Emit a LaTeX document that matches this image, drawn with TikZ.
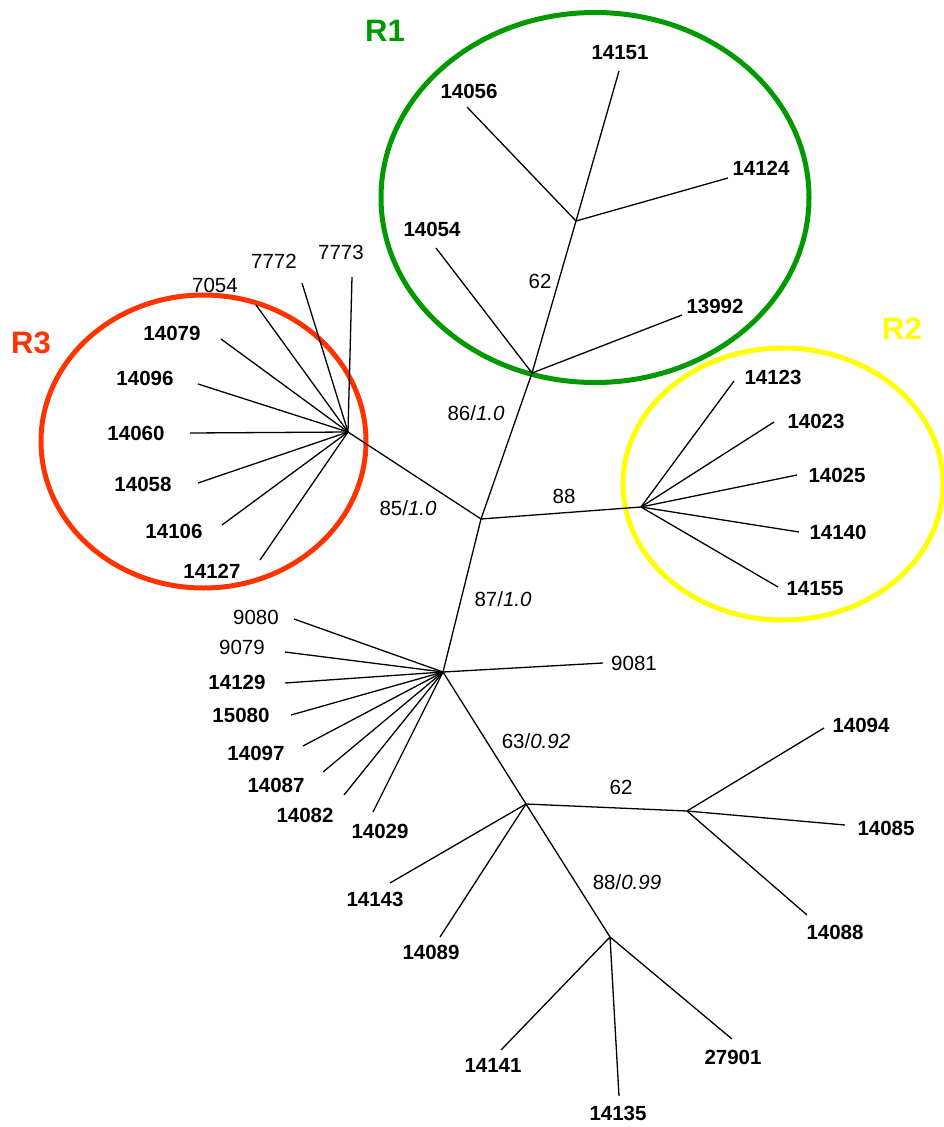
\documentclass[tikz,border=0pt]{standalone}
\usepackage{fontspec}
\setmainfont{Liberation Sans}
\definecolor{rgreen}{RGB}{0,153,0}
\definecolor{rred}{RGB}{255,51,0}
\definecolor{ryellow}{RGB}{255,255,0}
\begin{document}
\begin{tikzpicture}[x=1pt,y=-1pt,
  br/.style={line width=1.3pt, black},
  lb/.style={font=\fontsize{20.5}{24}\selectfont\bfseries, inner sep=0pt},
  lr/.style={font=\fontsize{20.5}{24}\selectfont, inner sep=0pt},
  grp/.style={line width=5pt},
  rl/.style={font=\fontsize{31}{36}\selectfont\bfseries, inner sep=0pt}]
\useasboundingbox (0,0) rectangle (944,1127);

% group ellipses
\draw[grp, rgreen] (595,197.5) ellipse [x radius=214pt, y radius=185pt];
\draw[grp, rred] (203.5,441.5) ellipse [x radius=162.5pt, y radius=146.5pt];
\draw[grp, ryellow] (783,484) ellipse [x radius=160pt, y radius=136pt];
\node[rl, text=rgreen] (R1) at (385,31) {R1};
\node[rl, text=ryellow] (R2) at (902,329) {R2};
\node[rl, text=rred] (R3) at (31,343) {R3};

% internal hubs
\coordinate (h3) at (348,432);
\coordinate (A) at (481,519);
\coordinate (L1) at (532,373);
\coordinate (U1) at (576,221);
\coordinate (h2) at (641,507);
\coordinate (B) at (443,672);
\coordinate (C) at (526,804);
\coordinate (D) at (687,811);
\coordinate (E) at (610,937);

% leaf ends
\coordinate (e7773) at (352,277);
\coordinate (e7772) at (302,283);
\coordinate (e7054) at (256,305);
\coordinate (e14079) at (221,339);
\coordinate (e14096) at (198,384);
\coordinate (e14060) at (190,433);
\coordinate (e14058) at (198,483);
\coordinate (e14106) at (222,525);
\coordinate (e14127) at (260,560);
\coordinate (e14151) at (619,71);
\coordinate (e14056) at (467,107);
\coordinate (e14124) at (728,178);
\coordinate (e14054) at (436,248);
\coordinate (e13992) at (682,315);
\coordinate (e14123) at (734,381);
\coordinate (e14023) at (774,422);
\coordinate (e14025) at (797,475);
\coordinate (e14140) at (799,532);
\coordinate (e14155) at (778,587);
\coordinate (e9080) at (294,619);
\coordinate (e9079) at (285,652);
\coordinate (e14129) at (285,683);
\coordinate (e15080) at (291,715);
\coordinate (e14097) at (303,746);
\coordinate (e14087) at (323,772);
\coordinate (e14082) at (344,795);
\coordinate (e14029) at (373,812);
\coordinate (e9081) at (603,663);
\coordinate (e14143) at (390,883);
\coordinate (e14089) at (440,937);
\coordinate (e14094) at (824,728);
\coordinate (e14085) at (845,825);
\coordinate (e14088) at (807,915);
\coordinate (e14141) at (501,1050);
\coordinate (e14135) at (619,1096);
\coordinate (e27901) at (732,1039);

% branches
\draw[br] (h3) -- (A);
\draw[br] (A) -- (L1);
\draw[br] (L1) -- (U1);
\draw[br] (A) -- (h2);
\draw[br] (A) -- (B);
\draw[br] (B) -- (C);
\draw[br] (C) -- (D);
\draw[br] (C) -- (E);
\foreach \t in {7773,7772,7054,14079,14096,14060,14058,14106,14127}
  \draw[br] (h3) -- (e\t);
\foreach \t in {14151,14056,14124}
  \draw[br] (U1) -- (e\t);
\foreach \t in {14054,13992}
  \draw[br] (L1) -- (e\t);
\foreach \t in {14123,14023,14025,14140,14155}
  \draw[br] (h2) -- (e\t);
\foreach \t in {9080,9079,14129,15080,14097,14087,14082,14029,9081}
  \draw[br] (B) -- (e\t);
\foreach \t in {14143,14089}
  \draw[br] (C) -- (e\t);
\foreach \t in {14094,14085,14088}
  \draw[br] (D) -- (e\t);
\foreach \t in {14141,14135,27901}
  \draw[br] (E) -- (e\t);

% leaf labels
\node[lr] (t7773) at (341,252) {7773};
\node[lr] (t7772) at (274,261) {7772};
\node[lr] (t7054) at (215,285) {7054};
\node[lb] (t14079) at (172,333) {14079};
\node[lb] (t14096) at (145,378) {14096};
\node[lb] (t14060) at (136,433) {14060};
\node[lb] (t14058) at (143,484) {14058};
\node[lb] (t14106) at (174,531) {14106};
\node[lb] (t14127) at (212,571) {14127};
\node[lb] (t14151) at (620,53) {14151};
\node[lb] (t14056) at (469,91) {14056};
\node[lb] (t14124) at (761,168) {14124};
\node[lb] (t14054) at (432,229) {14054};
\node[lb] (t13992) at (715,306) {13992};
\node[lb] (t14123) at (773,377) {14123};
\node[lb] (t14023) at (816,421) {14023};
\node[lb] (t14025) at (837,475) {14025};
\node[lb] (t14140) at (838,532) {14140};
\node[lb] (t14155) at (815,589) {14155};
\node[lr] (t9080) at (256,617) {9080};
\node[lr] (t9079) at (242,647) {9079};
\node[lb] (t14129) at (237,682) {14129};
\node[lb] (t15080) at (241,715) {15080};
\node[lb] (t14097) at (256,753) {14097};
\node[lb] (t14087) at (276,785) {14087};
\node[lb] (t14082) at (305,815) {14082};
\node[lb] (t14029) at (380,831) {14029};
\node[lr] (t9081) at (634,663) {9081};
\node[lb] (t14143) at (375,899) {14143};
\node[lb] (t14089) at (431,952) {14089};
\node[lb] (t14094) at (861,725) {14094};
\node[lb] (t14085) at (886,828) {14085};
\node[lb] (t14088) at (835,932) {14088};
\node[lb] (t14141) at (493,1065) {14141};
\node[lb] (t14135) at (618,1113) {14135};
\node[lb] (t27901) at (733,1057) {27901};

% support labels
\node[lr] (s62a) at (540,281) {62};
\node[lr] (s86) at (476,413) {86/\textit{1.0}};
\node[lr] (s85) at (408,508) {85/\textit{1.0}};
\node[lr] (s88) at (564,496) {88};
\node[lr] (s87) at (503,599) {87/\textit{1.0}};
\node[lr] (s63) at (536,741) {63/\textit{0.92}};
\node[lr] (s62b) at (621,787) {62};
\node[lr] (s8899) at (627,882) {88/\textit{0.99}};
\end{tikzpicture}
\end{document}
